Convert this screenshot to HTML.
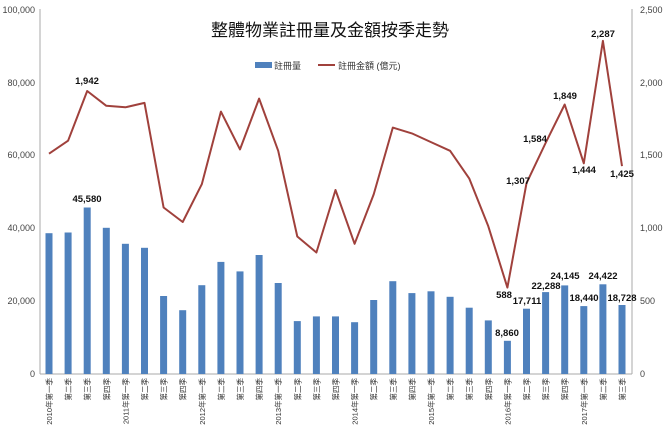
<!DOCTYPE html>
<html><head><meta charset="utf-8"><style>
body{margin:0;background:#fff}
svg{display:block;font-family:"Liberation Sans","Noto Sans CJK TC",sans-serif}
.t{font-size:9px;fill:#444}
.xl{font-size:7.5px;fill:#333}
.lb{font-size:9.5px;font-weight:bold;fill:#111}
</style></head><body>
<svg width="667" height="435" viewBox="0 0 667 435">
<rect width="667" height="435" fill="#fff"/>
<text x="330" y="36" text-anchor="middle" font-size="17" fill="#111">整體物業註冊量及金額按季走勢</text>
<rect x="255" y="62" width="17" height="6" fill="#4f81bd"/>
<text x="274" y="69" font-size="9" fill="#333">註冊量</text>
<line x1="318" y1="65" x2="335" y2="65" stroke="#a0413c" stroke-width="2"/>
<text x="338" y="69" font-size="9" fill="#333">註冊金額 (億元)</text>
<line x1="40" y1="9" x2="40" y2="374" stroke="#aaa"/>
<line x1="632" y1="9" x2="632" y2="374" stroke="#aaa"/>
<line x1="40" y1="374" x2="632" y2="374" stroke="#aaa"/>
<g class="t" text-anchor="end">
<text x="35" y="13">100,000</text><text x="35" y="86">80,000</text><text x="35" y="158">60,000</text><text x="35" y="231">40,000</text><text x="35" y="304">20,000</text><text x="35" y="377">0</text>
</g>
<g class="t">
<text x="640" y="13">2,500</text><text x="640" y="86">2,000</text><text x="640" y="158">1,500</text><text x="640" y="231">1,000</text><text x="640" y="304">500</text><text x="640" y="377">0</text>
</g>
<g fill="#4f81bd">
<rect x="45.5" y="233.2" width="7" height="140.8"/>
<rect x="64.6" y="232.5" width="7" height="141.5"/>
<rect x="83.7" y="207.5" width="7" height="166.5"/>
<rect x="102.8" y="227.8" width="7" height="146.2"/>
<rect x="121.9" y="243.8" width="7" height="130.2"/>
<rect x="141" y="247.8" width="7" height="126.2"/>
<rect x="160.1" y="296" width="7" height="78"/>
<rect x="179.2" y="310.2" width="7" height="63.8"/>
<rect x="198.3" y="285.2" width="7" height="88.8"/>
<rect x="217.4" y="261.9" width="7" height="112.1"/>
<rect x="236.5" y="271.4" width="7" height="102.6"/>
<rect x="255.6" y="255" width="7" height="119"/>
<rect x="274.7" y="283" width="7" height="91"/>
<rect x="293.8" y="321.1" width="7" height="52.9"/>
<rect x="312.9" y="316.4" width="7" height="57.6"/>
<rect x="332" y="316.4" width="7" height="57.6"/>
<rect x="351.1" y="322.2" width="7" height="51.8"/>
<rect x="370.2" y="300" width="7" height="74"/>
<rect x="389.3" y="281.2" width="7" height="92.8"/>
<rect x="408.4" y="293.1" width="7" height="80.9"/>
<rect x="427.5" y="291.3" width="7" height="82.7"/>
<rect x="446.6" y="296.8" width="7" height="77.2"/>
<rect x="465.7" y="307.7" width="7" height="66.3"/>
<rect x="484.8" y="320.4" width="7" height="53.6"/>
<rect x="503.9" y="340.8" width="7" height="33.2"/>
<rect x="523" y="308.7" width="7" height="65.3"/>
<rect x="542.1" y="292.1" width="7" height="81.9"/>
<rect x="561.2" y="285.4" width="7" height="88.6"/>
<rect x="580.3" y="306.1" width="7" height="67.9"/>
<rect x="599.4" y="284.3" width="7" height="89.7"/>
<rect x="618.5" y="305" width="7" height="69"/>
</g>
<polyline fill="none" stroke="#a0413c" stroke-width="2" stroke-linejoin="round" points="49,153.7 68.1,140.7 87.2,91 106.3,105.8 125.4,107.3 144.5,102.9 163.6,207.5 182.7,222 201.8,184.2 220.9,111.6 240,149.4 259.1,98.6 278.2,150.8 297.3,236.5 316.4,252.5 335.5,190 354.6,243.8 373.7,194.4 392.8,127.6 411.9,133.4 431,142.1 450.1,150.8 469.2,178.4 488.3,226.3 507.4,287.6 526.5,183.2 545.6,143 564.7,104.5 583.8,163.3 602.9,40.9 622,166.1"/>
<g class="lb" text-anchor="middle">
<text x="87" y="84">1,942</text>
<text x="87" y="202">45,580</text>
<text x="504" y="298">588</text>
<text x="518" y="184">1,307</text>
<text x="535" y="142">1,584</text>
<text x="565" y="99">1,849</text>
<text x="584" y="173">1,444</text>
<text x="603" y="37">2,287</text>
<text x="622" y="177">1,425</text>
<text x="507" y="336">8,860</text>
<text x="527" y="304">17,711</text>
<text x="546" y="289">22,288</text>
<text x="565" y="279">24,145</text>
<text x="584" y="301">18,440</text>
<text x="603" y="279">24,422</text>
<text x="622" y="301">18,728</text>
</g>
<g class="xl" text-anchor="end">
<text transform="translate(52,378) rotate(-90)">2010年第一季</text>
<text transform="translate(71.1,378) rotate(-90)">第二季</text>
<text transform="translate(90.2,378) rotate(-90)">第三季</text>
<text transform="translate(109.3,378) rotate(-90)">第四季</text>
<text transform="translate(128.4,378) rotate(-90)">2011年第一季</text>
<text transform="translate(147.5,378) rotate(-90)">第二季</text>
<text transform="translate(166.6,378) rotate(-90)">第三季</text>
<text transform="translate(185.7,378) rotate(-90)">第四季</text>
<text transform="translate(204.8,378) rotate(-90)">2012年第一季</text>
<text transform="translate(223.9,378) rotate(-90)">第二季</text>
<text transform="translate(243,378) rotate(-90)">第三季</text>
<text transform="translate(262.1,378) rotate(-90)">第四季</text>
<text transform="translate(281.2,378) rotate(-90)">2013年第一季</text>
<text transform="translate(300.3,378) rotate(-90)">第二季</text>
<text transform="translate(319.4,378) rotate(-90)">第三季</text>
<text transform="translate(338.5,378) rotate(-90)">第四季</text>
<text transform="translate(357.6,378) rotate(-90)">2014年第一季</text>
<text transform="translate(376.7,378) rotate(-90)">第二季</text>
<text transform="translate(395.8,378) rotate(-90)">第三季</text>
<text transform="translate(414.9,378) rotate(-90)">第四季</text>
<text transform="translate(434,378) rotate(-90)">2015年第一季</text>
<text transform="translate(453.1,378) rotate(-90)">第二季</text>
<text transform="translate(472.2,378) rotate(-90)">第三季</text>
<text transform="translate(491.3,378) rotate(-90)">第四季</text>
<text transform="translate(510.4,378) rotate(-90)">2016年第一季</text>
<text transform="translate(529.5,378) rotate(-90)">第二季</text>
<text transform="translate(548.6,378) rotate(-90)">第三季</text>
<text transform="translate(567.7,378) rotate(-90)">第四季</text>
<text transform="translate(586.8,378) rotate(-90)">2017年第一季</text>
<text transform="translate(605.9,378) rotate(-90)">第二季</text>
<text transform="translate(625,378) rotate(-90)">第三季</text>
</g>
</svg>
</body></html>
